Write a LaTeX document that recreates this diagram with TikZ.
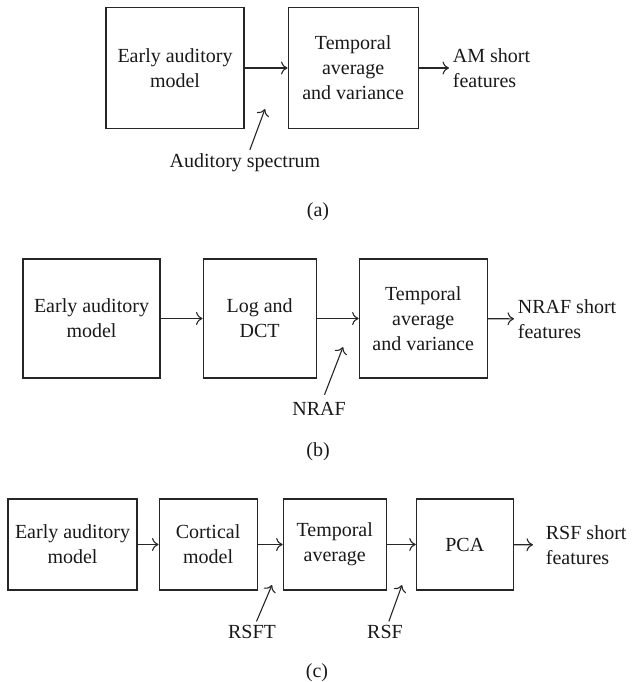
\documentclass[tikz,border=0pt]{standalone}
\usepackage{fontspec}
\setmainfont{Liberation Serif}
\usetikzlibrary{positioning,arrows.meta}

\begin{document}
\begin{tikzpicture}[x=1pt,y=-1pt,>={To[length=6.5pt,width=13pt]},line width=1.1pt,
    every node/.style={font=\fontsize{20}{25}\selectfont,text=black!90},
    block/.style={draw=black!85,align=center,inner sep=0pt},
    note/.style={align=left,anchor=west}]
    \useasboundingbox (0,0) rectangle (634,682);

    \node[block,minimum width=138pt,minimum height=121pt] (ea) at (175,68) {Early auditory\\model};
    \node[block,minimum width=130pt,minimum height=121pt] (ta) [right=43pt of ea] {Temporal\\average\\and variance};
    \node[note] (amf) at (449,68) {AM short\\features};
    \node (as) at (245,163) {Auditory spectrum};
    \coordinate (asin) at (265,109);
    \node (capa) at (318,212) {(a)};

    \path[->,draw=black!85] (ea) edge (ta);
    \path[->,draw=black!85] (ta) edge (amf);
    \path[->,draw=black!85] (as) edge (asin);

    \node[block,minimum width=137pt,minimum height=119pt] (eb) at (91.5,318.5) {Early auditory\\model};
    \node[block,minimum width=113pt,minimum height=119pt] (lb) [right=42pt of eb] {Log and\\DCT};
    \node[block,minimum width=128pt,minimum height=119pt] (tb) [right=42pt of lb] {Temporal\\average\\and variance};
    \node[note] (nrf) at (514,319) {NRAF short\\features};
    \node (nraf) at (319,409) {NRAF};
    \coordinate (nrafin) at (343,347);
    \node (capb) at (318,452) {(b)};

    \path[->,draw=black!85] (eb) edge (lb);
    \path[->,draw=black!85] (lb) edge (tb);
    \path[->,draw=black!85] (tb) edge (nrf);
    \path[->,draw=black!85] (nraf) edge[shorten <=4pt] (nrafin);

    \node[block,minimum width=129pt,minimum height=91pt] (ec) at (72.5,544.5) {Early auditory\\model};
    \node[block,minimum width=98pt,minimum height=91pt] (cc) [right=21pt of ec] {Cortical\\model};
    \node[block,minimum width=103pt,minimum height=91pt] (tc) [right=25pt of cc] {Temporal\\average};
    \node[block,minimum width=97pt,minimum height=91pt] (pc) [right=29pt of tc] {PCA};
    \node[note] (rsff) at (542,545) {RSF short\\features};
    \node (rsft) at (252,632) {RSFT};
    \coordinate (rsftin) at (272,585);
    \node (rsf) at (385,632) {RSF};
    \coordinate (rsfin) at (402,585);
    \node (capc) at (317,673) {(c)};

    \path[->,draw=black!85] (ec) edge (cc);
    \path[->,draw=black!85] (cc) edge (tc);
    \path[->,draw=black!85] (tc) edge (pc);
    \path[->,draw=black!85] (pc) edge[shorten >=9pt] (rsff);
    \path[->,draw=black!85] (rsft) edge (rsftin);
    \path[->,draw=black!85] (rsf) edge (rsfin);
\end{tikzpicture}
\end{document}
